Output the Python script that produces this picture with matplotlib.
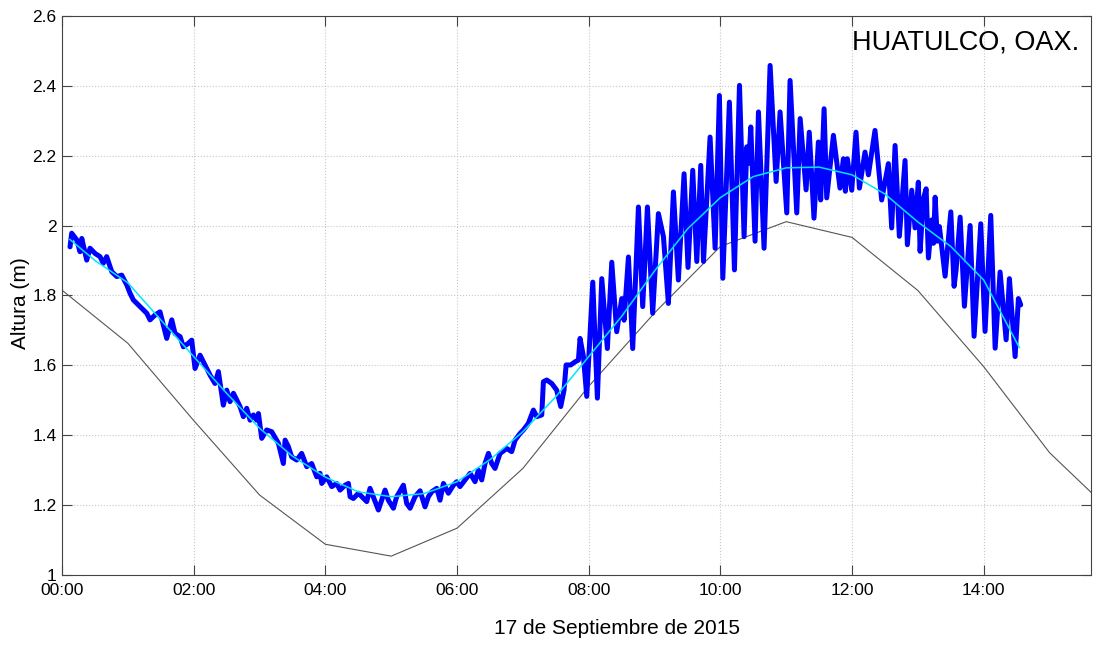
import matplotlib
matplotlib.use('Agg')
import numpy as np
from matplotlib import pyplot as plt
from matplotlib.ticker import FormatStrFormatter

# predicted tide, hourly (h, m)
pred_hours = list(range(17))
pred_level = [1.815, 1.663, 1.442, 1.229, 1.088, 1.054, 1.134, 1.305, 1.540,
              1.750, 1.940, 2.011, 1.966, 1.814, 1.596, 1.350, 1.170]

# smooth fit of the observed record
fit_hours = [0.12, 0.5, 1.0, 1.5, 2.0, 2.5, 3.0, 3.5, 4.0, 4.5, 5.0, 5.5, 6.0,
             6.5, 7.0, 7.5, 8.0, 8.5, 9.0, 9.5, 10.0, 10.5, 11.0, 11.5, 12.0,
             12.5, 13.0, 13.5, 14.0, 14.54]
fit_level = [1.960, 1.900, 1.836, 1.730, 1.625, 1.520, 1.420, 1.340, 1.280,
             1.238, 1.224, 1.233, 1.267, 1.330, 1.410, 1.510, 1.625, 1.740,
             1.870, 1.990, 2.080, 2.140, 2.165, 2.167, 2.145, 2.090, 2.010,
             1.940, 1.844, 1.651]

# observed sea level (minutes after 00:00, m)
obs_minutes = [
    7.3, 8.8, 13.4, 16.4, 18.0, 22.5, 25.5, 30.1, 34.6, 37.6, 40.7, 45.3,
    49.9, 54.4, 59.0, 62.0, 65.0, 71.1, 77.2, 80.2, 84.8, 89.3, 92.4, 95.4,
    98.4, 100.0, 103.0, 107.6, 110.6, 115.1, 118.2, 121.2, 125.8, 128.8,
    134.9, 139.4, 142.5, 147.0, 150.1, 153.1, 156.2, 162.2, 165.3, 168.3,
    171.4, 174.4, 177.4, 179.0, 182.0, 186.5, 191.1, 197.2, 201.7, 203.3,
    206.3, 209.3, 213.9, 218.4, 223.0, 227.5, 232.1, 235.1, 236.7, 241.2,
    245.8, 250.3, 253.4, 257.9, 261.0, 262.5, 265.5, 270.1, 277.7, 280.7,
    288.3, 294.4, 297.4, 302.0, 305.0, 311.1, 314.1, 317.2, 321.7, 326.3,
    330.8, 333.9, 336.9, 341.5, 344.5, 347.6, 352.1, 356.7, 359.7, 362.7,
    367.3, 371.9, 376.4, 379.4, 382.5, 385.5, 388.6, 391.6, 394.6, 399.2,
    405.3, 409.8, 412.9, 417.4, 420.5, 425.0, 429.6, 432.6, 437.2, 438.7,
    441.7, 446.3, 450.8, 454.5, 457.5, 459.4, 463.6, 467.6, 470.6, 472.1,
    475.2, 478.2, 483.7, 487.9, 491.9, 497.0, 501.0, 505.5, 510.1, 512.2,
    516.2, 520.1, 525.3, 529.2, 533.5, 538.3, 543.5, 548.1, 552.6, 557.2,
    561.7, 566.9, 570.5, 574.8, 578.5, 582.1, 584.6, 590.6, 595.2, 599.1,
    602.2, 608.2, 612.8, 617.4, 621.6, 624.0, 625.9, 627.7, 631.6, 634.7,
    639.8, 645.3, 650.8, 654.4, 660.5, 663.5, 669.6, 672.7, 678.1, 681.0,
    685.3, 689.3, 691.4, 694.5, 696.9, 701.4, 703.0, 709.0, 712.1, 713.9,
    715.7, 719.7, 723.6, 726.7, 731.8, 734.9, 740.9, 747.0, 753.1, 756.1,
    759.2, 763.1, 768.3, 770.4, 774.4, 777.4, 780.4, 782.0, 785.0, 787.5,
    789.6, 792.6, 794.2, 795.7, 797.8, 799.6, 804.8, 810.0, 813.0, 814.8,
    818.5, 822.4, 827.6, 831.2, 837.3, 841.2, 846.4, 850.4, 854.9, 860.4,
    863.4, 868.6, 871.6, 873.7]
obs_level = [
    1.939, 1.978, 1.959, 1.925, 1.963, 1.901, 1.935, 1.920, 1.911, 1.892,
    1.911, 1.868, 1.854, 1.858, 1.830, 1.806, 1.787, 1.768, 1.749, 1.730,
    1.744, 1.753, 1.715, 1.677, 1.711, 1.730, 1.691, 1.682, 1.653, 1.663,
    1.672, 1.591, 1.629, 1.610, 1.572, 1.548, 1.582, 1.486, 1.529, 1.496,
    1.520, 1.482, 1.453, 1.477, 1.443, 1.458, 1.443, 1.462, 1.391, 1.415,
    1.410, 1.377, 1.319, 1.386, 1.367, 1.338, 1.329, 1.348, 1.310, 1.319,
    1.281, 1.291, 1.262, 1.281, 1.253, 1.262, 1.243, 1.257, 1.262, 1.224,
    1.219, 1.234, 1.210, 1.248, 1.186, 1.243, 1.214, 1.191, 1.224, 1.257,
    1.205, 1.191, 1.224, 1.241, 1.195, 1.224, 1.238, 1.248, 1.214, 1.262,
    1.234, 1.257, 1.267, 1.253, 1.272, 1.291, 1.267, 1.300, 1.272, 1.319,
    1.348, 1.319, 1.305, 1.348, 1.362, 1.353, 1.386, 1.405, 1.415, 1.434,
    1.472, 1.453, 1.458, 1.553, 1.558, 1.548, 1.529, 1.482, 1.529, 1.601,
    1.601, 1.610, 1.615, 1.677, 1.625, 1.511, 1.838, 1.506, 1.848, 1.648,
    1.895, 1.696, 1.791, 1.729, 1.910, 1.648, 2.053, 1.768, 2.053, 1.749,
    2.034, 1.968, 1.777, 2.096, 1.844, 2.148, 1.880, 2.158, 1.897, 2.172,
    1.897, 2.253, 1.935, 2.372, 1.849, 2.353, 1.873, 2.401, 1.968, 2.225,
    2.178, 2.282, 1.955, 2.325, 1.935, 2.458, 2.126, 2.325, 2.036, 2.415,
    2.036, 2.306, 2.102, 2.267, 2.021, 2.239, 2.073, 2.334, 2.079, 2.210,
    2.258, 2.107, 2.191, 2.098, 2.191, 2.101, 2.267, 2.107, 2.210, 2.145,
    2.272, 2.073, 2.177, 1.993, 2.229, 1.969, 2.186, 1.945, 2.101, 1.993,
    2.124, 1.926, 2.077, 2.105, 1.907, 2.016, 1.949, 2.081, 1.955, 1.997,
    1.855, 2.039, 1.826, 1.873, 2.024, 1.769, 2.000, 1.683, 2.005, 1.697,
    2.029, 1.649, 1.867, 1.673, 1.848, 1.625, 1.791, 1.773]

tick_hours = [0, 2, 4, 6, 8, 10, 12, 14]
tick_labels = ['00:00', '02:00', '04:00', '06:00', '08:00', '10:00', '12:00', '14:00']

plt.rcParams['font.family'] = ['Liberation Sans', 'DejaVu Sans']

fig = plt.figure(figsize=(10.94, 6.45), dpi=100)
ax = fig.add_axes([0.0567, 0.1085, 0.9406, 0.867])

obs_hours = np.array(obs_minutes) / 60.0
ax.plot(pred_hours, pred_level, color='#555555', lw=0.8, zorder=2)
ax.plot(obs_hours, obs_level, color='#0000ff', lw=3.6,
        solid_joinstyle='round', solid_capstyle='round', zorder=3)
ax.plot(fit_hours, fit_level, color='#00e5ff', lw=1.1, zorder=4)

ax.set_xlim(0, 15.63)
ax.set_ylim(1, 2.6)
ax.set_xticks(tick_hours)
ax.set_xticklabels(tick_labels)
ax.set_yticks(np.arange(1.0, 2.61, 0.2))
ax.yaxis.set_major_formatter(FormatStrFormatter('%g'))

ax.grid(True, linestyle=':', color='#c8c8c8', lw=0.8)
ax.tick_params(direction='in', length=7, width=0.8, color='#444444',
               top=True, right=True, labelsize=12.5)
ax.tick_params(axis='x', pad=6)
ax.tick_params(axis='y', pad=4)
for s in ax.spines.values():
    s.set_color('#444444')
    s.set_linewidth(0.8)

ax.set_xlabel('17 de Septiembre de 2015', fontsize=15)
ax.xaxis.set_label_coords(0.539, -0.078)
ax.set_ylabel('Altura (m)', fontsize=15)
ax.yaxis.set_label_coords(-0.031, 0.486)
ax.text(0.989, 0.975, 'HUATULCO, OAX.', transform=ax.transAxes,
        ha='right', va='top', fontsize=19.5)

fig.savefig('out.png', dpi=100)
